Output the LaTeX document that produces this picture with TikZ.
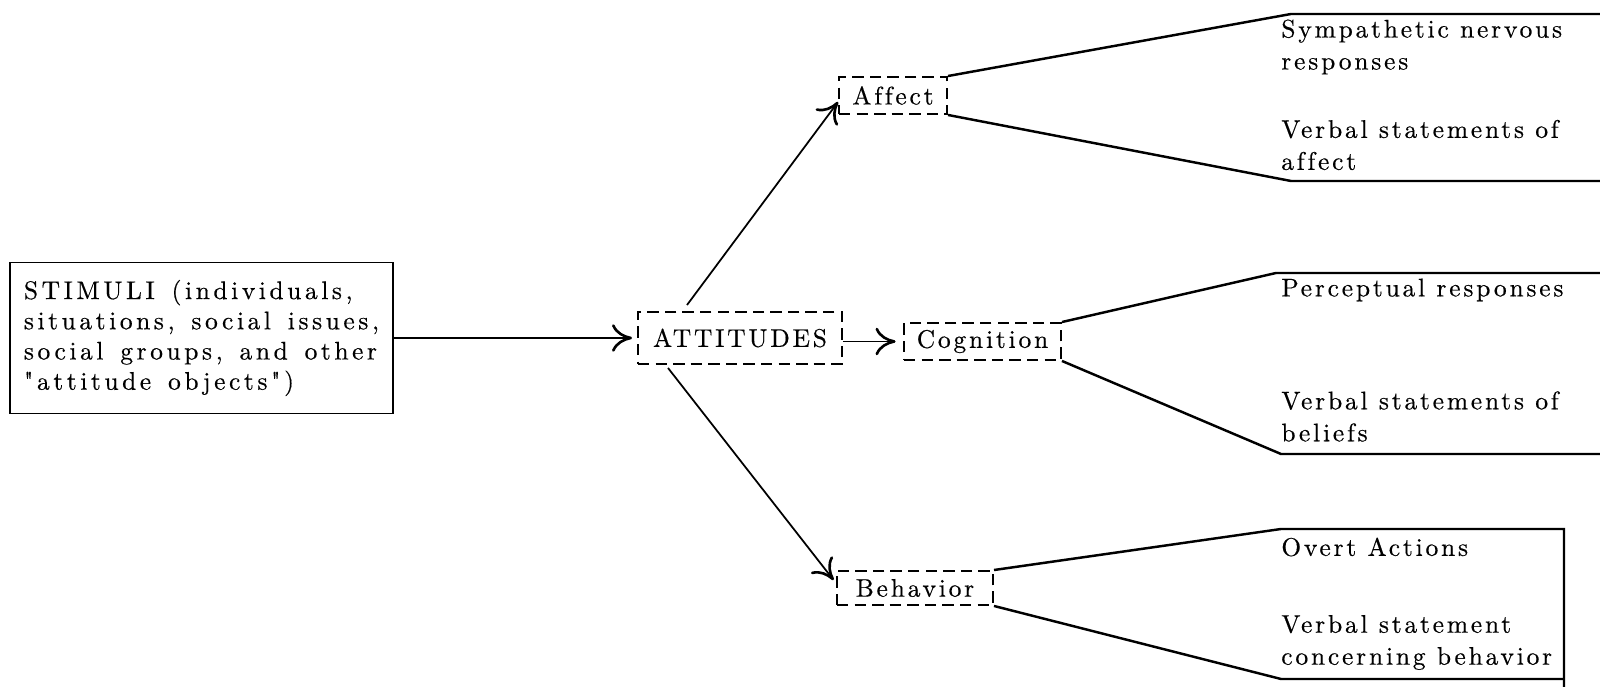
\documentclass[tikz,border=0pt]{standalone}
\usepackage{fontspec}
\usepackage{tikz}
\usetikzlibrary{arrows.meta,positioning,calc}
\newfontfamily\figfamily{lmroman10-regular.otf}[LetterSpace=11,Ligatures=NoCommon,FakeBold=0.4]
\newfontfamily\stimfamily{lmroman10-regular.otf}[LetterSpace=14,WordSpace=1.4,Ligatures=NoCommon,FakeBold=0.4]
\newcommand{\figfont}{\figfamily\fontsize{14.5}{18.2}\selectfont}

\begin{document}
\begin{tikzpicture}[font=\figfont,
  dbox/.style={draw,dash pattern=on 6.5pt off 3.5pt,line width=1.1pt,inner sep=0pt},
  arr/.style={line width=1pt,-{Computer Modern Rightarrow[length=4mm,width=5.5mm,line width=1.5pt]}},
  lead/.style={line width=1.4pt},
  resp/.style={anchor=west,align=left,inner sep=0pt}]
  \useasboundingbox (0,0) rectangle (32,13.74);
  \coordinate (edge) at (32,0);

  \node[draw,line width=1.1pt,minimum width=7.66cm,minimum height=3.02cm,align=left,
    font=\stimfamily\fontsize{14.5}{17.2}\selectfont]
    (stim) at (4.03,6.98) {STIMULI (individuals,\\situations, social issues,\\social groups, and other\\"attitude objects")};
  \node[dbox,minimum width=4.08cm,minimum height=1.04cm] (att) at (14.8,6.98) {ATTITUDES};
  \node[dbox,minimum width=2.16cm,minimum height=0.74cm] (aff) at (17.86,11.83) {Affect};
  \node[dbox,minimum width=3.14cm,minimum height=0.74cm] (cog) at (19.65,6.91) {Cognition};
  \node[dbox,minimum width=3.12cm,minimum height=0.68cm] (beh) at (18.3,1.98) {Behavior};

  \draw[arr] (stim.east) -- ([xshift=-0.1cm]att.west);
  \draw[arr] (att.east |- cog.west) -- ([xshift=-0.15cm]cog.west);
  \draw[arr] ([xshift=-1.06cm,yshift=0.12cm]att.north) -- ([yshift=-0.13cm]aff.west);
  \draw[arr] ([xshift=-1.44cm,yshift=-0.06cm]att.south) -- ([xshift=-0.05cm,yshift=0.16cm]beh.west);

  \coordinate (afftop) at (25.82,13.46);
  \coordinate (affbot) at (25.82,10.12);
  \coordinate (cogtop) at (25.52,8.28);
  \coordinate (cogbot) at (25.62,4.66);
  \coordinate (behtop) at (25.62,3.16);
  \coordinate (behbot) at (25.62,0.16);
  \coordinate (brk) at (31.28,3.16);

  \draw[lead] (aff.north east) -- (afftop) -- (afftop -| edge);
  \draw[lead] (aff.south east) -- (affbot) -- (affbot -| edge);
  \draw[lead] (cog.north east) -- (cogtop) -- (cogtop -| edge);
  \draw[lead] (cog.south east) -- (cogbot) -- (cogbot -| edge);
  \draw[lead] (beh.north east) -- (behtop) -- (brk) -- (brk |- edge);
  \draw[lead] (beh.south east) -- (behbot) -- (behbot -| brk);

  \node[resp] (symp) at (25.62,12.8) {Sympathetic nervous\\responses};
  \node[resp] (vaff) at (25.62,10.84) {Verbal statements of\\affect};
  \node[resp] (perc) at (25.62,7.94) {Perceptual responses};
  \node[resp] (vbel) at (25.62,5.41) {Verbal statements of\\beliefs};
  \node[resp] (overt) at (25.62,2.8) {Overt Actions};
  \node[resp] (vbeh) at (25.62,0.89) {Verbal statement\\concerning behavior};
\end{tikzpicture}
\end{document}
